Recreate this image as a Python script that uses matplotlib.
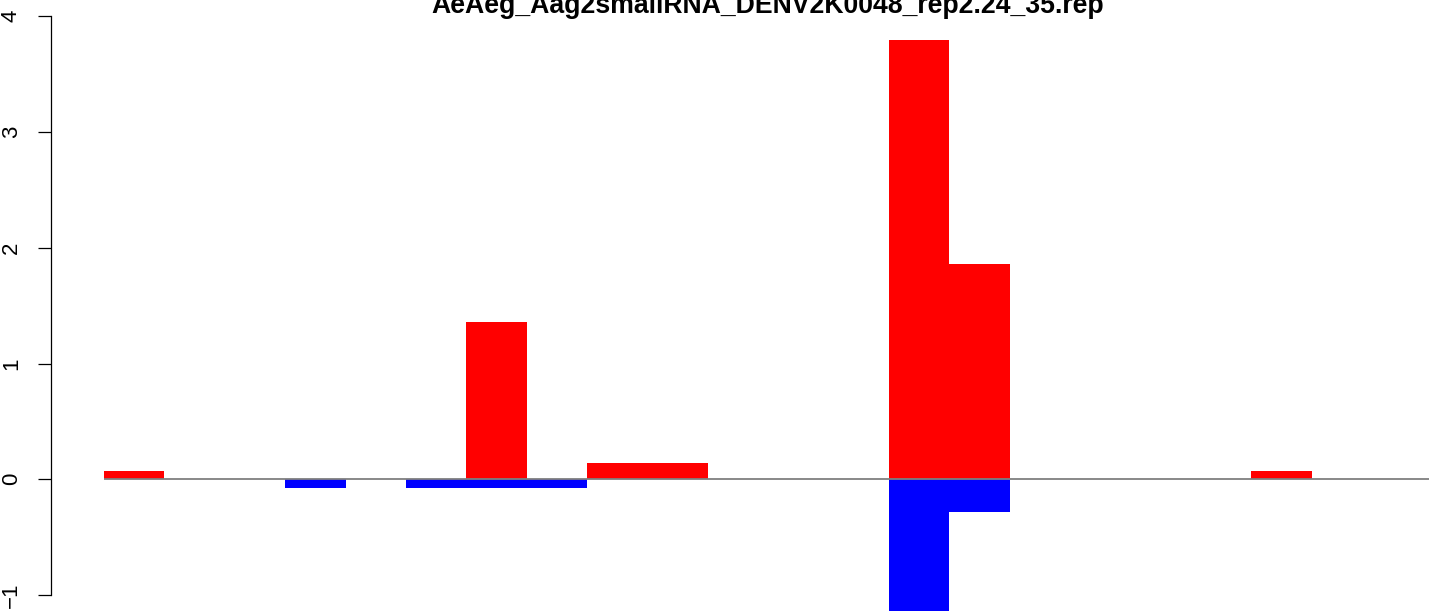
import numpy as np
import matplotlib
matplotlib.use("Agg")
import matplotlib.pyplot as plt

plt.rcParams["font.family"] = ["Liberation Sans", "DejaVu Sans"]

title = "AeAeg_Aag2smallRNA_DENV2K0048_rep2.24_35.rep"

# 22 bar slots
sense = [0.072, 0, 0, 0, 0, 0, 1.36, 0, 0.143, 0.143, 0, 0, 0, 3.79, 1.86,
         0, 0, 0, 0, 0.072, 0, 0]
antisense = [0, 0, 0, -0.072, 0, -0.072, -0.072, -0.072, 0, 0, 0, 0, 0, -1.15,
             -0.286, 0, 0, 0, 0, 0, 0, 0]
yticks = [-1, 0, 1, 2, 3, 4]

n = len(sense)
x = np.arange(n)

W, H = 1429, 611
fig = plt.figure(figsize=(W / 100, H / 100), dpi=100)

# plot region in pixels (partly outside the saved picture, like the reference crop)
left_px, width_px = 50.8, 1435
ax = fig.add_axes([left_px / W, 0, width_px / W, 1])

ax.bar(x, sense, width=1, align="edge", color="red", linewidth=0)
ax.bar(x, antisense, width=1, align="edge", color="blue", linewidth=0)
ax.hlines(0, 0, n, color="#7f7f7f", linewidth=1.3, zorder=3)

ax.set_xlim(-0.04 * n, n * 1.04)
zero_px, unit_px = 479.3, 115.8
ax.set_ylim(-(H - zero_px) / unit_px, zero_px / unit_px)

for s in ["top", "right", "bottom"]:
    ax.spines[s].set_visible(False)
ax.spines["left"].set_bounds(-1, 4)
ax.spines["left"].set_linewidth(0.9)
ax.set_xticks([])
ax.set_yticks(yticks)
ax.set_yticklabels([str(t).replace("-", "\u2212") for t in yticks])
ax.tick_params(axis="y", length=9.4, width=0.9, pad=11.5, labelsize=16, labelrotation=90)
for lab in ax.get_yticklabels():
    lab.set_va("center")

fig.text(768 / W, 1 - 13 / H, title, ha="center", va="baseline",
         fontsize=19.2, fontweight="bold")

fig.savefig("out.png", dpi=100)
